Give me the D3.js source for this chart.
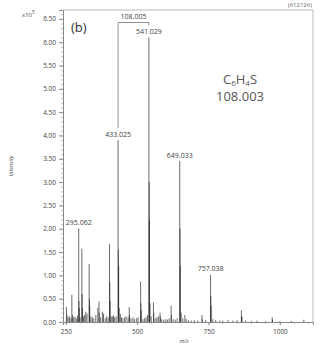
<!DOCTYPE html>
<html><head><meta charset="utf-8">
<script src="https://cdn.jsdelivr.net/npm/d3@7"></script>
<style>
html,body{margin:0;padding:0;background:#fff;}
svg{display:block;font-family:"Open Sans",sans-serif;}
</style></head>
<body><div id="chart"></div>
<script>
// m/z values and intensities (x10^5)
const mz = [252,254,258,263,268,271,273,277,282,287,291,295.062,296,297,300,306,307,308,312,316,320,324,
331.6,332.6,333.6,338,343,348,355,362,366,367,372,378,382,388,393,398,403,404,405,409,413,417,421,426,
433.025,434.03,435.02,437,441,445,450,456,461,468,472,473,478,485,490,497,503,512,513,514,520,526,531,536,
541.029,542.03,543.03,545,549,557,558,563,569,574,580,581,586,593,600,606,612,619,620,626,633,640,
649.033,650.03,651.03,654,660,667,672,680,690,700,712,727,728,740,757.038,758.04,759.03,765,775,790,800,818,835,850,
865.04,866.04,867,880,900,920,950,973,974,1000,1040,1084];
const intensity = [0.32,0.15,0.10,0.12,0.08,0.58,0.15,0.10,0.12,0.08,0.14,2.01,0.45,0.30,0.10,1.57,0.60,0.30,0.12,0.15,0.22,0.18,
1.24,0.50,0.35,0.12,0.10,0.08,0.15,0.30,0.44,0.20,0.10,0.22,0.18,0.08,0.12,0.10,1.67,0.85,0.45,0.12,0.12,0.14,0.10,0.12,
3.90,1.55,1.20,0.30,0.17,0.10,0.08,0.10,0.12,0.10,0.32,0.15,0.08,0.10,0.06,0.08,0.10,0.87,0.40,0.25,0.06,0.08,0.10,0.15,
6.10,3.00,2.20,0.40,0.12,0.42,0.20,0.08,0.10,0.12,0.20,0.12,0.06,0.05,0.06,0.05,0.08,0.35,0.15,0.06,0.05,0.08,
3.45,2.00,1.20,0.20,0.08,0.15,0.06,0.04,0.03,0.04,0.03,0.15,0.06,0.04,1.01,0.55,0.35,0.06,0.04,0.03,0.03,0.04,0.03,0.04,
0.25,0.12,0.10,0.03,0.02,0.03,0.02,0.10,0.05,0.02,0.02,0.05];

const labelMz = [295.062, 433.025, 541.029, 649.033, 757.038];
const labelText = ["295.062", "433.025", "541.029", "649.033", "757.038"];
const yTicks = [0,0.5,1,1.5,2,2.5,3,3.5,4,4.5,5,5.5,6,6.5];
const xTicks = [250,500,750,1000];
const bracketText = "108.005";
const formula = ["C", "6", "H", "4", "S"];
const formulaMass = "108.003";

const W = 336, H = 347;
const L = 63, R = 313, T = 10, B = 322;
const svg = d3.select("#chart").append("svg").attr("width", W).attr("height", H);
const x = d3.scaleLinear().domain([240, 1116]).range([L, R]);
const y = d3.scaleLinear().domain([0, 6.69]).range([B, T]);

// frame
svg.append("path").attr("d", `M${L},${T}H${R}V${B}`).attr("fill","none").attr("stroke","#bbb").attr("stroke-width",1);

// peaks
const data = mz.map((m,i)=>({m, v:intensity[i]}));
svg.append("g").selectAll("line").data(data).join("line")
  .attr("x1", d=>x(d.m)).attr("x2", d=>x(d.m))
  .attr("y1", y(0)).attr("y2", d=>y(d.v))
  .attr("stroke", "#222").attr("stroke-width", 0.9).attr("stroke-opacity", 0.75);

// y axis
const yAxis = svg.append("g").attr("transform", `translate(${L},0)`)
  .call(d3.axisLeft(y).tickValues(yTicks).tickFormat(d3.format(".2f")).tickSize(4).tickPadding(3));
const yMinor = d3.range(0, 6.69, 0.1);
svg.append("g").selectAll("line").data(yMinor).join("line")
  .attr("x1", L-2).attr("x2", L).attr("y1", d=>y(d)+0.5).attr("y2", d=>y(d)+0.5).attr("stroke","#999").attr("stroke-width",0.6);
// x axis
const xAxis = svg.append("g").attr("transform", `translate(0,${B})`)
  .call(d3.axisBottom(x).tickValues(xTicks).tickFormat(d3.format("d")).tickSize(3).tickPadding(4));
const xMinor = d3.range(250, 1116, 50);
svg.append("g").selectAll("line").data(xMinor).join("line")
  .attr("x1", d=>x(d)).attr("x2", d=>x(d)).attr("y1", B).attr("y2", B+2).attr("stroke","#999").attr("stroke-width",0.6);
[yAxis, xAxis].forEach(g=>{
  g.select(".domain").attr("stroke","#888");
  g.selectAll(".tick line").attr("stroke","#888");
  g.selectAll(".tick text").attr("fill","#444").attr("font-size","6.5px").attr("font-family","Open Sans, sans-serif");
});

// peak labels
const lab = labelMz.map((m,i)=>({m, t:labelText[i], v:intensity[mz.indexOf(m)]}));
svg.append("g").selectAll("text").data(lab).join("text")
  .attr("x", d=>x(d.m)).attr("y", d=>y(d.v)-3.5)
  .attr("text-anchor","middle").attr("font-size","7px").attr("fill","#444").text(d=>d.t);

// bracket between 433.025 and 541.029
const xa = x(433.025), xb = x(541.029);
const ya = y(intensity[mz.indexOf(433.025)]) - 12;
const yb = y(intensity[mz.indexOf(541.029)]) - 12;
const yTop = 22.5;
svg.append("path").attr("d", `M${xa},${ya}V${yTop}H${xb}V${yb}`)
  .attr("fill","none").attr("stroke","#777").attr("stroke-width",0.8);
svg.append("text").attr("x",(xa+xb)/2).attr("y", yTop-4).attr("text-anchor","middle")
  .attr("font-size","7px").attr("fill","#444").text(bracketText);

// panel label
svg.append("text").attr("x",71).attr("y",32).attr("font-size","13px").attr("fill","#333").text("(b)");

// formula
const f = svg.append("text").attr("x",240).attr("y",84).attr("text-anchor","middle").attr("font-size","13px").attr("fill","#555");
formula.forEach((s,i)=>{
  const isSub = /\d/.test(s);
  f.append("tspan").attr("font-size", isSub? "8px":"13px").attr("dy", isSub? 2 : (i>0? -2:0)).text(s);
});
svg.append("text").attr("x",240).attr("y",101).attr("text-anchor","middle").attr("font-size","13px").attr("fill","#555").text(formulaMass);

// exponent
const e = svg.append("text").attr("x",22).attr("y",17).attr("font-size","6px").attr("fill","#444").text("x10");
e.append("tspan").attr("dy",-3).attr("font-size","4.5px").text("5");

// id
svg.append("text").attr("x",312).attr("y",7).attr("text-anchor","end").attr("font-size","6px").attr("fill","#666").text("(612126)");

// axis titles
svg.append("text").attr("transform","translate(13,166) rotate(-90)").attr("text-anchor","middle")
  .attr("font-size","5.5px").attr("font-style","italic").attr("fill","#444").text("Intensity");
svg.append("text").attr("x",184).attr("y",343).attr("text-anchor","middle")
  .attr("font-size","5.5px").attr("font-style","italic").attr("fill","#444").text("m/z");
</script></body></html>
